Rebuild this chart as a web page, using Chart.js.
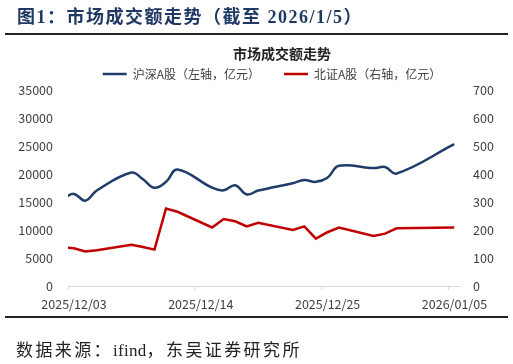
<!DOCTYPE html>
<html>
<head>
<meta charset="utf-8">
<script src="https://cdn.jsdelivr.net/npm/chart.js@4/dist/chart.umd.min.js"></script>
<style>
  body { margin: 0; background: #fff; width: 513px; height: 364px; overflow: hidden; position: relative; font-family: "Noto Sans CJK SC", sans-serif; }
  #chart { position: absolute; left: 0; top: 0; }
  .head { position: absolute; left: 17px; top: 5px; font: bold 18px "Liberation Serif", "Noto Sans CJK SC"; color: #1f3864; letter-spacing: 1.5px; white-space: nowrap; line-height: 24px; }
  .rule { position: absolute; left: 5px; width: 503px; height: 2px; background: #222; }
  .ctitle { position: absolute; left: 182px; width: 200px; top: 44px; text-align: center; font: bold 14px "Noto Sans CJK SC"; color: #222; line-height: 18px; }
  .source { position: absolute; left: 16px; top: 339px; font: 17px "Liberation Serif", "Noto Sans CJK SC"; color: #222; letter-spacing: 2.4px; white-space: nowrap; line-height: 24px; }
  .source span { letter-spacing: 0.3px; }
</style>
</head>
<body>
<canvas id="chart" width="530" height="364"></canvas>
<div class="head">图1：市场成交额走势（截至 2026/1/5）</div>
<div class="rule" style="top:33px"></div>
<div class="ctitle">市场成交额走势</div>
<div class="rule" style="top:316px"></div>
<div class="source">数据来源：<span>ifind</span>，东吴证券研究所</div>
<script>
// trading days (the first one sits just left of the axis and gets clipped)
const dates = ['2025/12/02', '2025/12/03', '2025/12/04', '2025/12/05', '2025/12/08', '2025/12/09',
    '2025/12/10', '2025/12/11', '2025/12/12', '2025/12/15', '2025/12/16', '2025/12/17',
    '2025/12/18', '2025/12/19', '2025/12/22', '2025/12/23', '2025/12/24', '2025/12/25',
    '2025/12/26', '2025/12/29', '2025/12/30', '2025/12/31', '2026/01/05'];
// 沪深A股, 亿元 (left axis)
const shszValues = [15500, 16450, 15230, 17050, 20260, 19070, 17540, 18600, 20810, 17550, 17080, 18000,
    16340, 17040, 18360, 18920, 18600, 19340, 21460, 21050, 21240, 20080, 25330];
// 北证A股, 亿元 (right axis)
const bseValues = [138, 135, 123, 128, 147, 139, 130, 277, 265, 209, 239, 231,
    213, 226, 200, 213, 169, 192, 209, 179, 187, 206, 209];
const xTickLabels = ['2025/12/03', '2025/12/14', '2025/12/25', '2026/01/05'];

const axisStart = new Date(xTickLabels[0]);
function dayOf(s) {
    return Math.round((new Date(s) - axisStart) / 86400000);
}
// points sit in the middle of their day on the date axis
const toPoints = vals => dates.map((d, i) => ({ x: dayOf(d) + 0.5, y: vals[i] }));
const tickDays = xTickLabels.map(dayOf);

const blue = '#1f3c6a';
const red = '#c00000';
const tickFont = { family: '"Noto Sans CJK SC", sans-serif', size: 12.5 };

new Chart(document.getElementById('chart'), {
    type: 'line',
    data: {
        datasets: [
            {
                label: '沪深A股（左轴，亿元）',
                data: toPoints(shszValues),
                borderColor: blue,
                backgroundColor: blue,
                borderWidth: 2.5,
                pointRadius: 0,
                tension: 0.4,
                yAxisID: 'y'
            },
            {
                label: '北证A股（右轴，亿元）',
                data: toPoints(bseValues),
                borderColor: red,
                backgroundColor: red,
                borderWidth: 2.5,
                pointRadius: 0,
                tension: 0,
                yAxisID: 'y2'
            }
        ]
    },
    options: {
        responsive: false,
        animation: false,
        devicePixelRatio: 1,
        layout: { padding: { top: 62, left: 14, right: 0, bottom: 48 } },
        plugins: {
            title: { display: false },
            tooltip: { enabled: false },
            legend: {
                display: true,
                position: 'top',
                labels: {
                    usePointStyle: true,
                    pointStyle: 'line',
                    pointStyleWidth: 24,
                    padding: 6,
                    color: '#404040',
                    font: { family: '"Noto Sans CJK SC", sans-serif', size: 12 },
                    generateLabels: chart => {
                        const items = Chart.defaults.plugins.legend.labels.generateLabels(chart);
                        items[0].text += '\u3000\u3000';
                        return items;
                    }
                }
            }
        },
        scales: {
            x: {
                type: 'linear',
                min: 0,
                max: 34,
                afterFit: s => { s.height = 30; },
                afterBuildTicks: s => { s.ticks = tickDays.map(v => ({ value: v })); },
                border: { display: true, color: '#d9d9d9', width: 1 },
                grid: { drawOnChartArea: false, drawTicks: true, tickLength: 4, color: '#d9d9d9' },
                ticks: {
                    padding: 7,
                    labelOffset: 6,
                    maxRotation: 0,
                    autoSkip: false,
                    color: '#404040',
                    font: tickFont,
                    callback: v => xTickLabels[tickDays.indexOf(v)]
                }
            },
            y: {
                position: 'left',
                min: 0,
                max: 35000,
                afterFit: s => { s.width = 54; },
                border: { display: false },
                grid: { display: false, drawTicks: false },
                ticks: { stepSize: 5000, padding: 15, color: '#404040', font: tickFont, callback: v => String(v) }
            },
            y2: {
                position: 'right',
                min: 0,
                max: 700,
                afterFit: s => { s.width = 70; },
                border: { display: false },
                grid: { display: false, drawTicks: false },
                ticks: { stepSize: 100, padding: 13, color: '#404040', font: tickFont, callback: v => String(v) }
            }
        }
    }
});
</script>
</body>
</html>
